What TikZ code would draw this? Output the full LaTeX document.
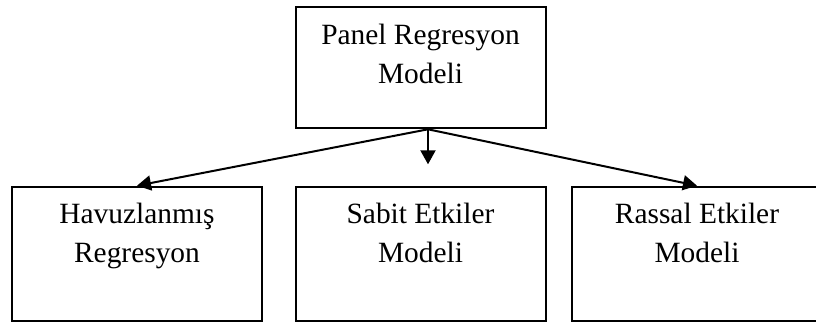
\documentclass[tikz,border=0pt]{standalone}
\usepackage{fontspec}
\setmainfont{Liberation Serif}
\usetikzlibrary{positioning,arrows.meta}

\begin{document}
\begin{tikzpicture}[x=0.5pt,y=0.5pt,
                >={Triangle[length=7pt,width=7.5pt]},
                kutu/.style={draw,line width=1pt,inner sep=0pt,minimum width=125pt},
                yazi/.style={align=center,inner sep=0pt,font=\fontsize{14.7}{19.5}\selectfont}]
                \useasboundingbox (0,0) rectangle (816,322);
                % ust kutu
                \node[kutu,minimum height=60.5pt] (panel) at (420.5,254.2) {};
                \node[yazi,below=8.6pt of panel.north] (tpanel) {Panel Regresyon\\Modeli};
                % alt kutular
                \node[kutu,minimum height=67pt] (havuz) at (137,68.3) {};
                \node[kutu,minimum height=67pt] (sabit) at (420.5,68.3) {};
                \node[kutu,minimum height=67pt] (rassal) at (697,68.3) {};
                \node[yazi,below=8.6pt of havuz.north] (thavuz) {Havuzlanmış\\Regresyon};
                \node[yazi,below=8.6pt of sabit.north] (tsabit) {Sabit Etkiler\\Modeli};
                \node[yazi,below=8.6pt of rassal.north] (trassal) {Rassal Etkiler\\Modeli};
                % oklar
                \coordinate (ayrim) at ([xshift=3.75pt]panel.south);
                \coordinate (orta) at ([yshift=-17.5pt]ayrim);
                \draw[->,line width=1pt] (ayrim)--(havuz.north);
                \draw[->,line width=1pt] (ayrim)--(orta);
                \draw[->,line width=1pt] (ayrim)--(rassal.north);
            \end{tikzpicture}
\end{document}
